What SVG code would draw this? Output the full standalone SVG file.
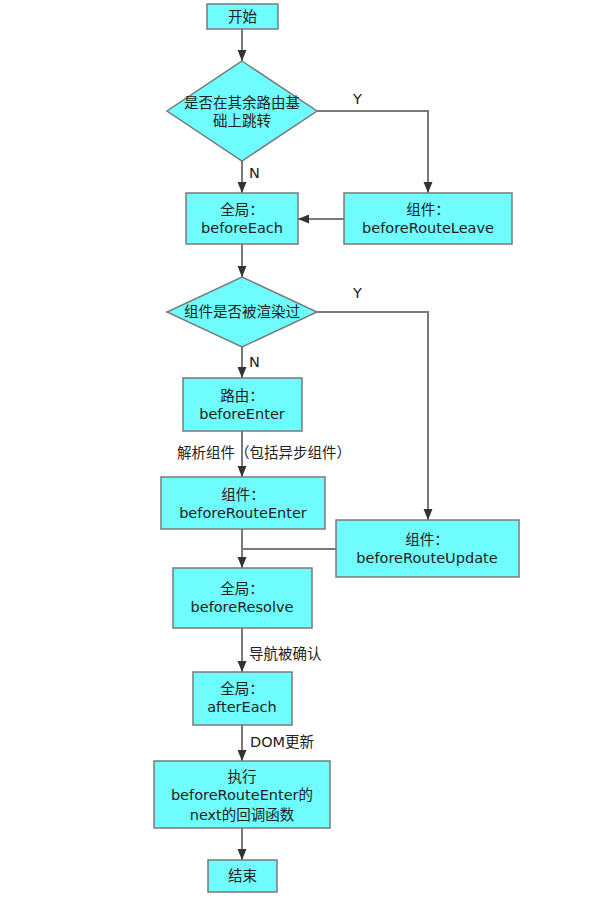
<svg xmlns="http://www.w3.org/2000/svg" width="592" height="905" viewBox="0 0 592 905">
<style>
.n{fill:#6ffcfc;stroke:#7a7a7a;stroke-width:1.5}
.t{font-family:"DejaVu Sans","Noto Sans CJK SC",sans-serif;font-size:14.5px;fill:#222;text-anchor:middle}
.l{font-family:"DejaVu Sans","Noto Sans CJK SC",sans-serif;font-size:14.5px;fill:#222}
.c{fill:none;stroke:#7a7a7a;stroke-width:2}
</style>
<defs>
<marker id="a" markerUnits="userSpaceOnUse" markerWidth="12" markerHeight="12" viewBox="0 0 12 12" refX="11" refY="6" orient="auto">
<path d="M0,1.5 L11,6 L0,10.5 Z" fill="#333"/>
</marker>
</defs>
<rect width="592" height="905" fill="#fff"/>
<g id="connectors">
<path class="c" d="M242,29 V61" marker-end="url(#a)"/>
<path class="c" d="M242,161 V193" marker-end="url(#a)"/>
<path class="c" d="M317,111 H428 V193" marker-end="url(#a)"/>
<path class="c" d="M344,219 H298" marker-end="url(#a)"/>
<path class="c" d="M242,244 V277" marker-end="url(#a)"/>
<path class="c" d="M242,347 V378" marker-end="url(#a)"/>
<path class="c" d="M317,312 H428 V520" marker-end="url(#a)"/>
<path class="c" d="M242,431 V477" marker-end="url(#a)"/>
<path class="c" d="M242,529 V568" marker-end="url(#a)"/>
<path class="c" d="M336,549 H242"/>
<path class="c" d="M242,628 V672" marker-end="url(#a)"/>
<path class="c" d="M242,725 V761" marker-end="url(#a)"/>
<path class="c" d="M242,828 V860" marker-end="url(#a)"/>
<text class="l" x="249" y="178">N</text>
<text class="l" x="353" y="104">Y</text>
<text class="l" x="249" y="367">N</text>
<text class="l" x="353" y="298">Y</text>
<text class="l" x="177" y="458">解析组件（包括异步组件）</text>
<text class="l" x="249" y="659">导航被确认</text>
<text class="l" x="250" y="747">DOM更新</text>
</g>
<g id="start"><rect class="n" x="207" y="4" width="71" height="25"/><text class="t" x="242.5" y="21.5">开始</text></g>
<g id="d1"><polygon class="n" points="242,61 317,111 242,161 167,111"/><text class="t" x="242" y="108">是否在其余路由基</text><text class="t" x="242" y="126">础上跳转</text></g>
<g id="beforeEach"><rect class="n" x="186" y="193" width="112" height="51"/><text class="t" x="242" y="215">全局：</text><text class="t" x="242" y="233">beforeEach</text></g>
<g id="beforeRouteLeave"><rect class="n" x="344" y="193" width="168" height="51"/><text class="t" x="428" y="215">组件：</text><text class="t" x="428" y="233">beforeRouteLeave</text></g>
<g id="d2"><polygon class="n" points="242,277 317,312 242,347 167,312"/><text class="t" x="242" y="317">组件是否被渲染过</text></g>
<g id="beforeEnter"><rect class="n" x="183" y="378" width="119" height="53"/><text class="t" x="242" y="401">路由：</text><text class="t" x="242" y="419">beforeEnter</text></g>
<g id="beforeRouteEnter"><rect class="n" x="161" y="477" width="164" height="52"/><text class="t" x="243" y="500">组件：</text><text class="t" x="243" y="518">beforeRouteEnter</text></g>
<g id="beforeRouteUpdate"><rect class="n" x="336" y="520" width="183" height="57"/><text class="t" x="427" y="545">组件：</text><text class="t" x="427" y="563">beforeRouteUpdate</text></g>
<g id="beforeResolve"><rect class="n" x="173" y="568" width="139" height="60"/><text class="t" x="242" y="594">全局：</text><text class="t" x="242" y="612">beforeResolve</text></g>
<g id="afterEach"><rect class="n" x="193" y="672" width="99" height="53"/><text class="t" x="242" y="694">全局：</text><text class="t" x="242" y="712">afterEach</text></g>
<g id="exec"><rect class="n" x="154" y="761" width="176" height="67"/><text class="t" x="242" y="782">执行</text><text class="t" x="242" y="800">beforeRouteEnter的</text><text class="t" x="242" y="820">next的回调函数</text></g>
<g id="end"><rect class="n" x="208" y="860" width="69" height="32"/><text class="t" x="242.5" y="881">结束</text></g>
</svg>
